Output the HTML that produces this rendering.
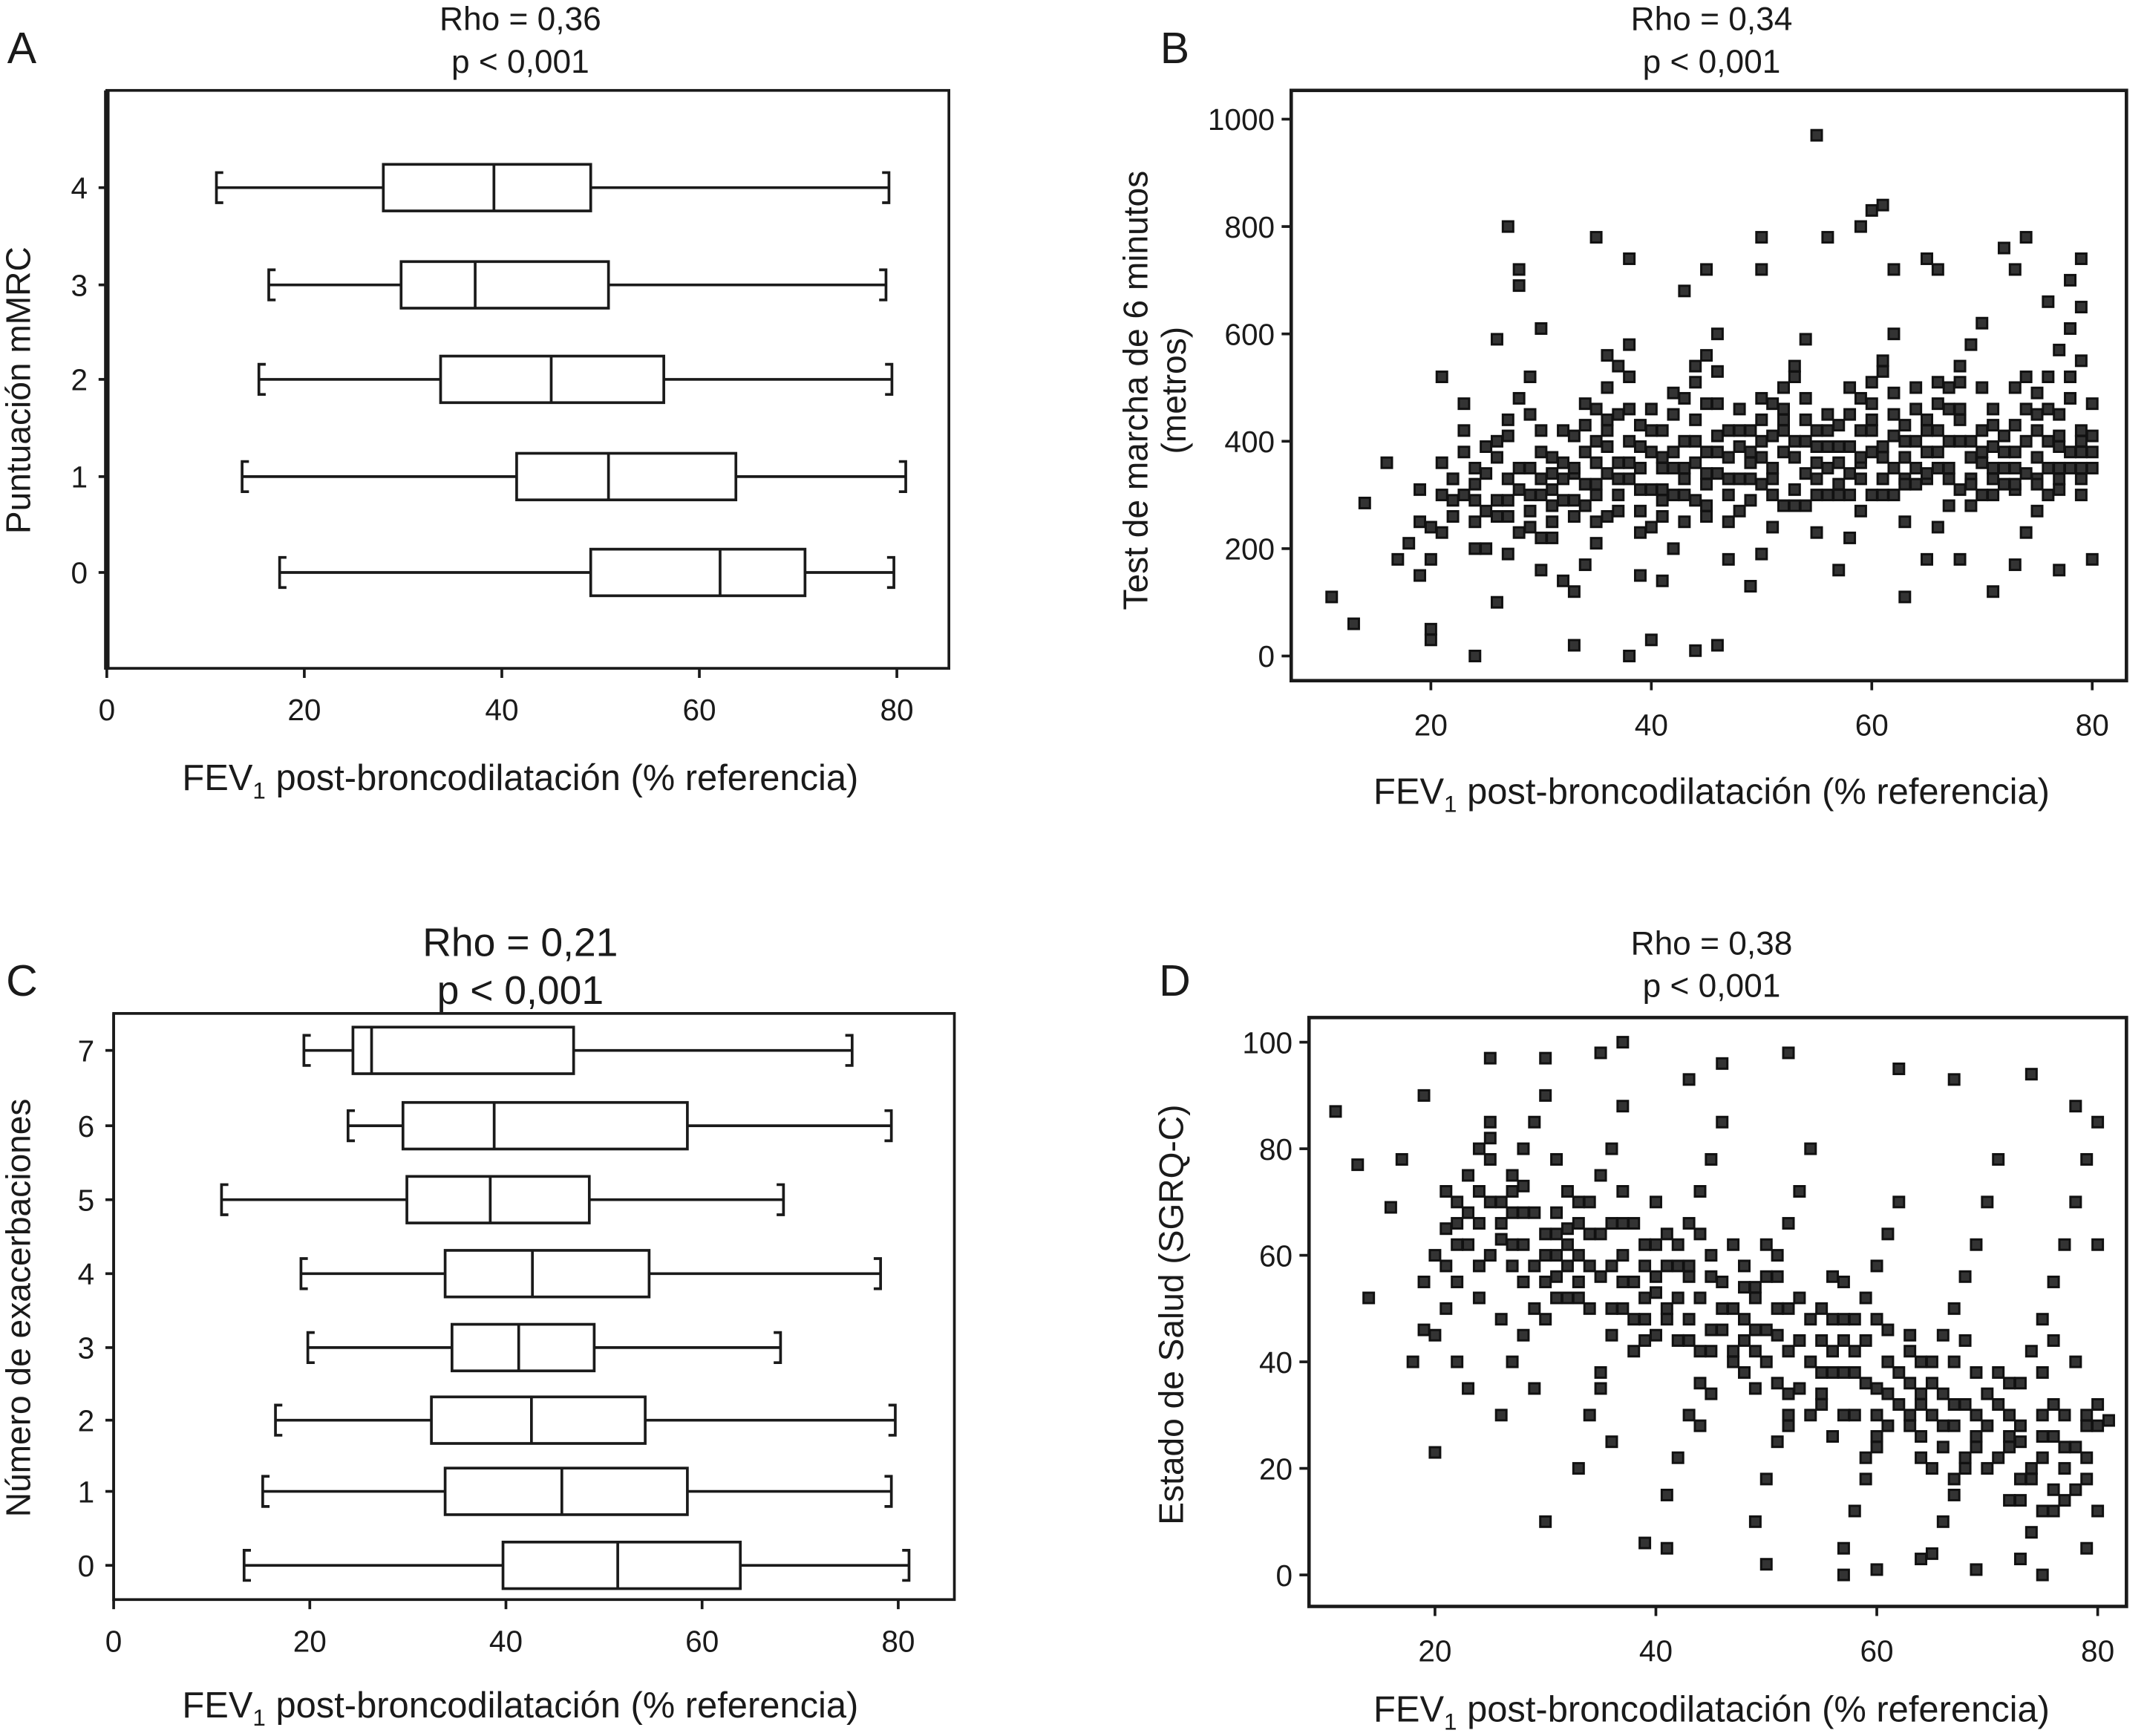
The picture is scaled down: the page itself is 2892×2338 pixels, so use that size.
<!DOCTYPE html>
<html><head><meta charset="utf-8">
<style>
html,body{margin:0;padding:0;background:#fff;}
svg{display:block;}
text{font-family:"Liberation Sans Narrow","Liberation Sans",sans-serif;fill:#1a1a1a;}
</style></head>
<body>
<svg id="fig" width="2892" height="2338" viewBox="0 0 1568 1267.6" xmlns="http://www.w3.org/2000/svg"></svg>
<script>
// ---------- Data ----------
const boxCatsA = [0,1,2,3,4];
const boxLowA  = [17.5,13.7,15.4,16.4,11.1];
const boxQ1A   = [49.0,41.5,33.8,29.8,28.0];
const boxMedA  = [62.1,50.8,45.0,37.3,39.2];
const boxQ3A   = [70.7,63.7,56.4,50.8,49.0];
const boxHighA = [79.7,80.9,79.5,78.9,79.2];

const boxCatsC = [0,1,2,3,4,5,6,7];
const boxLowC  = [13.3,15.2,16.5,19.8,19.1,11.0,23.9,19.4];
const boxQ1C   = [39.7,33.8,32.4,34.5,33.8,29.9,29.5,24.4];
const boxMedC  = [51.4,45.7,42.6,41.3,42.7,38.4,38.8,26.3];
const boxQ3C   = [63.9,58.5,54.2,49.0,54.6,48.5,58.5,46.9];
const boxHighC = [81.1,79.3,79.7,68.0,78.2,68.3,79.3,75.3];

const xTicks = [0,20,40,60,80];
const xTicksScatter = [20,40,60,80];
const yTicksB = [0,200,400,600,800,1000];
const yTicksD = [0,20,40,60,80,100];

const ptsB = [[11,110],[13,60],[14,285],[16,360],[17,180],[18,210],[19,250],[20,30],[20,50],[21,520],[22,330],[24,0],[25,200],[26,590],[27,800],[28,720],[28,690],[30,610],[32,140],[33,20],[35,780],[36,560],[38,740],[38,0],[40,30],[43,680],[44,10],[45,720],[46,20],[50,780],[50,720],[55,970],[56,780],[59,800],[60,830],[61,840],[62,720],[63,110],[65,740],[66,720],[68,180],[71,120],[72,760],[73,720],[74,780],[76,660],[78,700],[79,740],[80,470],[77,160],[80,180],[79,300],
[19,150],[20,240],[21,300],[22,330],[23,380],[24,200],[25,270],[19,310],[21,360],[23,420],[20,180],[22,260],[24,290],[25,340],[23,470],[21,230],[24,320],[25,390],
[26,100],[27,190],[28,230],[29,270],[30,300],[31,340],[32,360],[26,400],[27,440],[28,480],[29,520],[30,160],[31,250],[32,330],[26,370],[27,410],[29,450],[30,220],[31,280],[28,310],[30,380],[32,420],[27,330],[29,350],
[33,120],[34,170],[35,210],[36,260],[37,300],[38,330],[39,350],[40,380],[33,410],[34,430],[35,460],[36,500],[37,540],[38,580],[39,150],[40,240],[33,290],[34,320],[35,360],[36,390],[37,450],[38,520],[39,270],[40,310],[36,340],[38,400],[34,280],[39,430],[40,460],[35,320],
[41,140],[42,200],[43,250],[44,290],[45,320],[46,340],[47,370],[48,390],[41,420],[42,450],[43,480],[44,510],[45,560],[46,600],[47,180],[48,270],[41,310],[42,350],[43,400],[44,440],[45,470],[46,530],[47,300],[48,330],[42,380],[44,360],[46,410],[48,460],[41,260],[45,280],
[49,130],[50,190],[51,240],[52,280],[53,310],[54,340],[55,360],[56,390],[49,420],[50,440],[51,470],[52,500],[53,540],[54,590],[55,230],[56,300],[49,330],[50,370],[51,410],[52,460],[53,520],[54,280],[55,420],[56,350],[50,320],[52,380],[54,400],[56,450],
[57,160],[58,220],[59,270],[60,300],[61,330],[62,350],[63,370],[64,400],[57,430],[58,450],[59,480],[60,510],[61,550],[62,600],[63,250],[64,320],[57,360],[58,390],[59,420],[60,470],[61,530],[62,300],[63,430],[64,460],[58,340],[60,380],[62,410],[64,500],
[65,180],[66,240],[67,280],[68,310],[69,330],[70,360],[71,390],[72,410],[65,440],[66,470],[67,500],[68,540],[69,580],[70,620],[71,300],[72,350],[65,380],[66,420],[67,460],[68,510],[69,280],[70,420],[71,460],[72,320],[66,350],[68,400],[70,300],
[73,170],[74,230],[75,270],[76,300],[77,330],[78,350],[79,380],[80,410],[73,430],[74,460],[75,490],[76,520],[77,570],[78,610],[79,650],[73,310],[74,340],[75,370],[76,400],[77,450],[78,480],[79,330],[80,350],[75,420],[77,390],[73,500],[79,550],
[22,290],[26,260],[31,310],[35,400],[39,390],[43,330],[47,420],[51,350],[55,390],[59,360],[63,330],[67,400],[71,350],[75,330],[79,420],[37,360],[45,380],[53,400],[61,370],[69,370],[77,350],[33,340],[41,350],[49,380],[57,320],[65,330],[73,380],
[23,300],[24,350],[26,290],[27,260],[28,350],[29,300],[30,330],[31,370],[32,290],[33,350],[34,380],[35,300],[36,420],[37,330],[38,360],[39,310],[40,420],[41,370],[42,300],[43,350],[44,400],[45,340],[46,380],[47,330],[48,420],[49,360],[50,400],[51,330],[52,420],[53,370],[54,440],[55,300],[56,420],[57,390],[58,300],[59,370],[60,420],[61,390],[62,450],[63,400],[64,350],[65,420],[66,380],[67,330],[68,440],[69,400],[70,380],[71,430],[72,380],[73,350],[74,400],[75,450],[76,350],[77,410],[78,380],[79,400],[80,380],
[24,250],[27,290],[29,240],[31,220],[33,260],[35,250],[37,270],[39,230],[41,290],[43,300],[45,260],[47,250],[49,290],[51,300],[53,280],[55,330],[57,300],[59,330],[61,300],[63,320],[65,340],[67,350],[69,320],[71,330],[73,320],[75,320],[77,310],[79,350],
[30,420],[34,470],[38,460],[42,490],[46,470],[50,480],[54,480],[58,500],[62,490],[66,510],[70,500],[74,520],[78,520],[36,440],[44,540],[52,440],[60,440],[68,460],[76,460]];

const ptsD = [[11,87],[13,77],[14,52],[16,69],[17,78],[18,40],[19,46],[20,23],[25,97],[30,10],[30,97],[35,98],[37,100],[39,6],[41,5],[43,93],[46,96],[50,2],[52,98],[57,0],[60,1],[62,95],[64,3],[67,93],[69,1],[74,94],[75,0],[78,88],[80,62],[81,29],[79,5],
[19,55],[20,60],[21,65],[22,70],[23,75],[24,80],[25,85],[19,90],[20,45],[21,50],[22,62],[23,68],[24,72],[25,78],[21,58],[22,40],[23,35],[24,66],[25,82],
[26,30],[27,40],[28,45],[29,50],[30,55],[31,60],[32,65],[26,70],[27,75],[28,80],[29,85],[30,90],[31,52],[32,58],[26,63],[27,68],[28,73],[29,35],[30,48],[31,78],
[33,20],[34,30],[35,38],[36,45],[37,50],[38,55],[39,58],[40,62],[33,66],[34,70],[35,75],[36,80],[37,88],[38,42],[39,48],[40,53],[33,60],[34,64],[35,35],[36,25],[37,72],
[41,15],[42,22],[43,30],[44,36],[45,42],[46,46],[47,50],[48,54],[41,58],[42,62],[43,66],[44,72],[45,78],[46,85],[47,40],[48,44],[41,48],[42,52],[43,56],[44,28],[45,34],
[49,10],[50,18],[51,25],[52,30],[53,35],[54,40],[55,44],[56,48],[49,52],[50,56],[51,60],[52,66],[53,72],[54,80],[55,32],[56,38],[49,42],[50,46],[51,50],[52,28],
[57,5],[58,12],[59,18],[60,24],[61,28],[62,32],[63,36],[64,40],[57,44],[58,48],[59,52],[60,58],[61,64],[62,70],[63,30],[64,34],[57,38],[58,42],[59,22],[60,26],
[65,4],[66,10],[67,15],[68,20],[69,24],[70,28],[71,32],[72,36],[65,40],[66,45],[67,50],[68,56],[69,62],[70,70],[71,78],[72,26],[65,30],[66,34],[67,18],[68,22],
[73,3],[74,8],[75,12],[76,16],[77,20],[78,24],[79,28],[80,32],[73,36],[74,42],[75,48],[76,55],[77,62],[78,70],[79,78],[80,85],[73,14],[74,18],[75,22],[76,26],[77,30],
[22,55],[25,60],[28,62],[31,68],[34,50],[37,60],[40,45],[43,48],[46,55],[49,35],[52,42],[55,38],[58,30],[61,40],[64,22],[67,32],[70,20],[73,25],[76,12],[79,18],
[24,52],[27,58],[30,64],[33,55],[36,58],[39,52],[42,44],[45,60],[48,38],[51,45],[54,30],[57,55],[60,35],[63,45],[66,28],[69,38],[72,14],[75,30],[78,40],[26,48],[32,72],[38,66],[44,64],[50,62],[56,26],
[21,72],[23,62],[24,58],[26,66],[27,62],[28,55],[29,68],[30,60],[31,56],[32,62],[33,52],[34,58],[35,64],[36,50],[37,55],[38,48],[39,62],[40,56],[41,50],[42,58],[43,44],[44,52],[45,46],[46,50],[47,42],[48,48],[49,54],[50,40],[51,36],[52,50],[53,44],[54,48],[55,34],[56,42],[57,30],[58,38],[59,44],[60,30],[61,34],[62,38],[63,28],[64,32],[65,36],[66,24],[67,28],[68,32],[69,26],[70,34],[71,22],[72,30],[73,28],[74,20],[75,26],[76,32],[77,24],[78,16],[79,22],[80,28],
[22,66],[25,70],[27,72],[29,58],[31,64],[33,70],[35,56],[37,66],[39,44],[41,64],[43,58],[45,56],[47,62],[49,46],[51,56],[53,52],[55,50],[57,48],[59,36],[61,46],[63,42],[65,20],[67,40],[69,30],[71,38],[73,18],[75,38],[77,14],[79,30],
[28,68],[32,52],[36,66],[40,70],[44,42],[48,58],[52,34],[56,56],[60,48],[64,26],[68,44],[72,24],[76,44],[80,12]];

// ---------- Helpers ----------
const svg = document.getElementById('fig');
const NS = 'http://www.w3.org/2000/svg';
function mk(tag, attrs, parent){
  const e = document.createElementNS(NS, tag);
  for (const k in attrs) e.setAttribute(k, attrs[k]);
  (parent||svg).appendChild(e);
  return e;
}
function txt(str, x, y, size, anchor, parent, rot){
  const t = mk('text', {x:x, y:y, 'font-size':size, 'text-anchor':anchor||'middle'}, parent);
  if (rot) t.setAttribute('transform', 'rotate(-90 '+x+' '+y+')');
  t.textContent = str;
  return t;
}
function lin(d0,d1,r0,r1){ return v => r0 + (v-d0)*(r1-r0)/(d1-d0); }

function xlabel(g, cx, y){
  const t = mk('text', {x:cx, y:y, 'font-size':26.5, 'text-anchor':'middle'}, g);
  
  
  const a = document.createElementNS(NS,'tspan'); a.textContent='FEV'; t.appendChild(a);
  const b = document.createElementNS(NS,'tspan'); b.textContent='1'; b.setAttribute('font-size','17'); b.setAttribute('dy','6'); t.appendChild(b);
  const c = document.createElementNS(NS,'tspan'); c.textContent=' post-broncodilatación (% referencia)'; c.setAttribute('dy','-6'); t.appendChild(c);
}

function boxPanel(opt){
  const g = mk('g', {});
  
  
  const {L,R,T,B} = opt;
  const xs = lin(0,80,opt.x0,opt.x80);
  const ys = c => opt.yAt[c];
  const fr = mk('rect',{x:L,y:T,width:R-L,height:B-T,fill:'none',stroke:'#1a1a1a','stroke-width':2},g);
  
  
  mk('line',{x1:L,y1:T,x2:L,y2:B+1,stroke:'#1a1a1a','stroke-width':opt.leftW},g);
  xTicks.forEach(v=>{
    const x = xs(v);
    const tk = mk('line',{x1:x,y1:B,x2:x,y2:B+7,stroke:'#1a1a1a','stroke-width':2},g);
    
    
    const lb = txt(String(v), x, B+38, 22, 'middle', g);
    
    
  });
  opt.cats.forEach((c,i)=>{
    const y = ys(c);
    mk('line',{x1:L-6,y1:y,x2:L,y2:y,stroke:'#1a1a1a','stroke-width':2},g);
    const lb = txt(String(c), L-14, y+8, 22, 'end', g);
    
    
    const h = 17, cap = 11, st = 5;
    const lo = xs(opt.low[i]), q1 = xs(opt.q1[i]), md = xs(opt.med[i]), q3 = xs(opt.q3[i]), hi = xs(opt.high[i]);
    const bx = mk('g',{},g);
    
    
    const s = {stroke:'#1a1a1a','stroke-width':2,fill:'none'};
    mk('line',Object.assign({x1:lo,y1:y,x2:q1,y2:y},s),bx);
    mk('line',Object.assign({x1:q3,y1:y,x2:hi,y2:y},s),bx);
    mk('path',Object.assign({d:`M${lo+st},${y-cap}H${lo}V${y+cap}H${lo+st}`},s),bx);
    mk('path',Object.assign({d:`M${hi-st},${y-cap}H${hi}V${y+cap}H${hi-st}`},s),bx);
    mk('rect',Object.assign({x:q1,y:y-h,width:q3-q1,height:2*h},s),bx);
    mk('line',Object.assign({x1:md,y1:y-h,x2:md,y2:y+h},s),bx);
  });
  const t1 = txt(opt.rho, opt.tcx, opt.t1y, opt.tsize, 'middle', g);
  
  
  const t2 = txt('p < 0,001', opt.tcx, opt.t2y, opt.tsize, 'middle', g);
  
  
  const pl = txt(opt.letter, 16, opt.letY, 32, 'middle', g);
  
  
  const yl = txt(opt.ylab, opt.ylx, opt.yly, 25, 'middle', g, true);
  
  
  xlabel(g, opt.tcx, opt.xly);
}

function scatterPanel(opt){
  const g = mk('g', {});
  
  
  const {L,R,T,B} = opt;
  const xs = lin(20,80,opt.x20,opt.x80);
  const ys = lin(opt.y0v,opt.y1v,opt.y0,opt.y1);
  const fr = mk('rect',{x:L,y:T,width:R-L,height:B-T,fill:'none',stroke:'#1a1a1a','stroke-width':2.5},g);
  
  
  xTicksScatter.forEach(v=>{
    const x = xs(v);
    mk('line',{x1:x,y1:B,x2:x,y2:B+7,stroke:'#1a1a1a','stroke-width':2},g);
    const lb = txt(String(v), x, B+40, 22, 'middle', g);
    
    
  });
  opt.yt.forEach(v=>{
    const y = ys(v);
    mk('line',{x1:L-7,y1:y,x2:L,y2:y,stroke:'#1a1a1a','stroke-width':2},g);
    const lb = txt(String(v), L-12, y+8, 22, 'end', g);
    
    
  });
  const pg = mk('g',{},g);
  
  
  opt.pts.forEach(p=>{
    const r = mk('rect',{x:xs(p[0])-3.8,y:ys(p[1])-3.8,width:7.6,height:7.6,fill:'#333',stroke:'#111','stroke-width':1.6},pg);
    
    
  });
  const t1 = txt(opt.rho, opt.tcx, opt.t1y, 24, 'middle', g);
  
  
  const t2 = txt('p < 0,001', opt.tcx, opt.t2y, 24, 'middle', g);
  
  
  const pl = txt(opt.letter, 858, opt.letY, 32, 'middle', g);
  
  
  opt.ylab.forEach((s,i)=>{
    const yl = txt(s, opt.ylx[i], opt.yly, 25, 'middle', g, true);
    
    
  });
  xlabel(g, opt.tcx, opt.xly);
}

boxPanel({name:'panel-a-mmrc-boxplot', L:78,R:693,T:66,B:488, x0:78,x80:655, leftW:4,
  yAt:{4:137,3:208,2:277,1:348,0:418}, cats:boxCatsA, low:boxLowA,q1:boxQ1A,med:boxMedA,q3:boxQ3A,high:boxHighA,
  rho:'Rho = 0,36', tcx:380, t1y:22, t2y:53, tsize:24, letter:'A', letY:46,
  ylab:'Puntuación mMRC', ylx:22, yly:285, xly:577});

boxPanel({name:'panel-c-exacerbations-boxplot', L:83,R:697,T:740,B:1168, x0:83,x80:656, leftW:2,
  yAt:{7:767,6:822,5:876,4:930,3:984,2:1037,1:1089,0:1143}, cats:boxCatsC, low:boxLowC,q1:boxQ1C,med:boxMedC,q3:boxQ3C,high:boxHighC,
  rho:'Rho = 0,21', tcx:380, t1y:698, t2y:733, tsize:29, letter:'C', letY:727,
  ylab:'Número de exacerbaciones', ylx:22, yly:955, xly:1254});

scatterPanel({name:'panel-b-6mwt-scatter', L:943,R:1553,T:66,B:497, x20:1045,x80:1528, y0v:0,y1v:1000,y0:479,y1:87,
  yt:yTicksB, pts:ptsB, rho:'Rho = 0,34', tcx:1250, t1y:22, t2y:53, letter:'B', letY:46,
  ylab:['Test de marcha de 6 minutos','(metros)'], ylx:[838,866], yly:285, xly:587});

scatterPanel({name:'panel-d-sgrq-scatter', L:956,R:1553,T:743,B:1173, x20:1048,x80:1532, y0v:0,y1v:100,y0:1150,y1:761,
  yt:yTicksD, pts:ptsD, rho:'Rho = 0,38', tcx:1250, t1y:697, t2y:728, letter:'D', letY:727,
  ylab:['Estado de Salud (SGRQ-C)'], ylx:[864], yly:960, xly:1257});
</script>
</body></html>
